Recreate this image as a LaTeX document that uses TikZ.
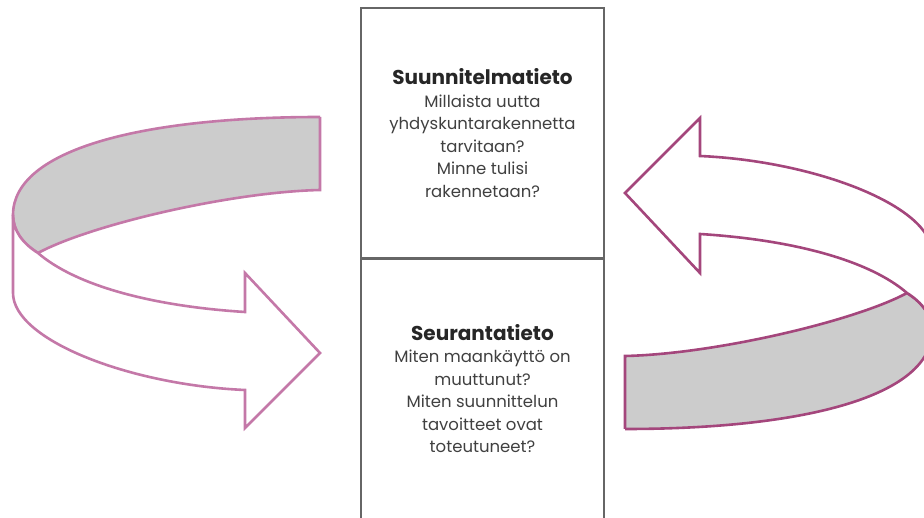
\documentclass[tikz,border=0pt]{standalone}
\usepackage{fontspec}
\setmainfont{Poppins}
\usepackage{xcolor}
\usepackage{tikz}
\definecolor{ribbonlight}{HTML}{C478A8}
\definecolor{ribbondark}{HTML}{A4467C}
\definecolor{bandgray}{HTML}{CCCCCC}
\definecolor{textgray}{HTML}{404040}
\newcommand{\ribbonpath}[1]{%
  \fill[bandgray] (320,117) -- (320,190) .. controls (230,192) and (90,225) .. (38,253)
    .. controls (22,243) and (13,230) .. (13,215)
    .. controls (13,150) and (140,117) .. (320,117) -- cycle;
  \draw[#1, ribbon] (320,117) -- (320,190) .. controls (230,192) and (90,225) .. (38,253);
  \draw[#1, ribbon] (38,253) .. controls (22,243) and (13,230) .. (13,215)
    .. controls (13,150) and (140,117) .. (320,117);
  \draw[#1, ribbon, fill=white] (13,215) -- (13,293) .. controls (13,340) and (130,385) .. (245,390)
    -- (245,428) -- (320,353) -- (245,273) -- (245,312)
    .. controls (150,306) and (75,285) .. (38,253)
    .. controls (22,243) and (13,230) .. (13,215) -- cycle;
}
\begin{document}
\begin{tikzpicture}[x=1pt, y=-1pt,
    ribbon/.style={line width=2.6pt, line join=miter},
    infobox/.style={draw=black!60, line width=1.2pt, minimum width=243pt, align=center,
                    text=textgray, font=\fontsize{16.5}{22.5}\selectfont},
  ]
  \useasboundingbox (0,0) rectangle (924,518);

  % left ribbon arrow
  \ribbonpath{ribbonlight}

  % right ribbon arrow, turned half round
  \begin{scope}
    \clip (0,0) rectangle (924,518);
    \begin{scope}[rotate around={180:(472.5,273)}]
      \ribbonpath{ribbondark}
    \end{scope}
  \end{scope}

  \node[infobox, minimum height=250pt] (plan) at (482.5,133)
    {{\fontsize{20}{22.5}\selectfont\bfseries\color{black!85} Suunnitelmatieto}\\
     Millaista uutta\\ yhdyskuntarakennetta\\ tarvitaan?\\ Minne tulisi\\ rakennetaan?};
  \node[infobox, minimum height=259pt, anchor=north] (follow) at (plan.south)
    {{\fontsize{20}{22.5}\selectfont\bfseries\color{black!85} Seurantatieto}\\
     Miten maankäyttö on\\ muuttunut?\\ Miten suunnittelun\\ tavoitteet ovat\\ toteutuneet?};
\end{tikzpicture}
\end{document}
